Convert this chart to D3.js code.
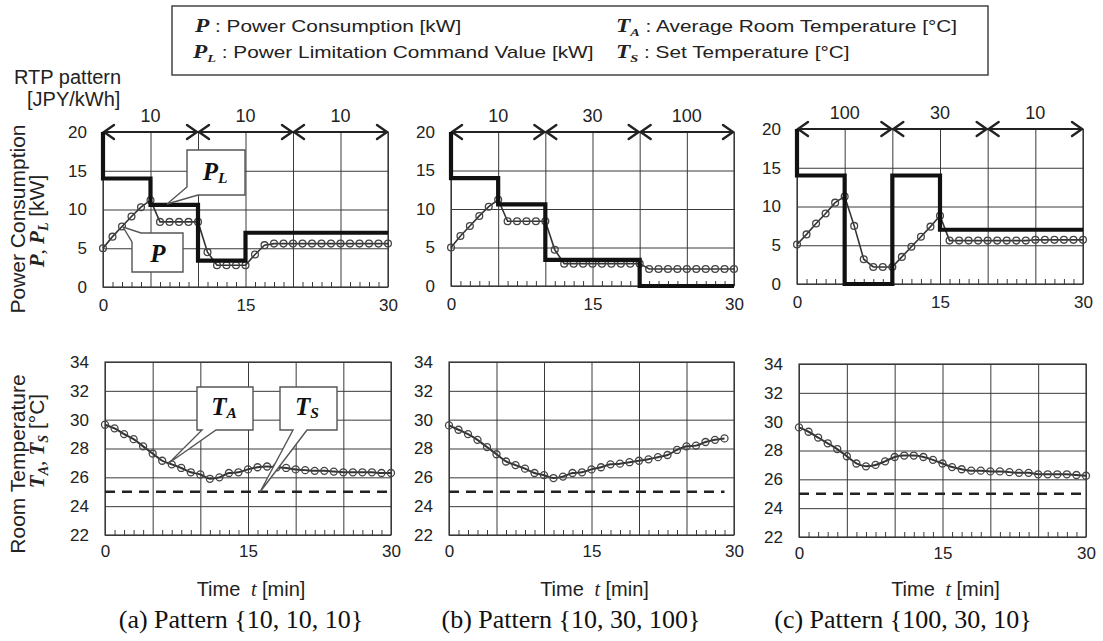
<!DOCTYPE html>
<html><head><meta charset="utf-8">
<script src="https://cdn.jsdelivr.net/npm/d3@7"></script>
<style>body{margin:0;background:#fff}svg{display:block}</style>
</head><body>
<svg id="c" width="1103" height="641"></svg>
<script>
// ---------------- DATA ----------------
const minutes = [0,1,2,3,4,5,6,7,8,9,10,11,12,13,14,15,16,17,18,19,20,21,22,23,24,25,26,27,28,29,30];
const gridMinutes = [0,5,10,15,20,25,30];
const xLabelTicks = [0,15,30];
const powerTicks = [0,5,10,15,20];
const tempTicks = [22,24,26,28,30,32,34];
const rtpBounds = [[0,10],[10,20],[20,30]];

const rtpA = [10,10,10];
const rtpB = [10,30,100];
const rtpC = [100,30,10];

// Power limitation command (step, value holds until next time)
const plTimeA = [0,0,5,10,15,30];
const plValA  = [20,14,10.6,3.4,7,7];
const plTimeB = [0,0,5,10,20,30];
const plValB  = [20,14,10.6,3.4,0,0];
const plTimeC = [0,0,5,10,15,30];
const plValC  = [20,14,0,14,7,7];

// Power consumption P (every minute)
const pA = [5.0,6.5,7.8,9.1,10.3,11.2,8.4,8.4,8.4,8.4,8.4,4.5,2.8,2.8,2.8,2.8,4.2,5.4,5.6,5.6,5.6,5.6,5.6,5.6,5.6,5.6,5.6,5.6,5.6,5.6,5.6];
const pB = [5.0,6.5,7.8,9.1,10.3,11.2,8.4,8.4,8.4,8.4,8.4,4.7,2.9,2.9,2.9,2.9,2.9,2.9,2.9,2.9,2.9,2.2,2.2,2.2,2.2,2.2,2.2,2.2,2.2,2.2,2.2];
const pC = [5.1,6.4,7.8,9.1,10.5,11.3,7.5,3.2,2.2,2.2,2.2,3.5,4.8,6.1,7.4,8.8,5.6,5.6,5.6,5.6,5.6,5.6,5.6,5.6,5.6,5.7,5.7,5.7,5.7,5.7,5.7];

// Average room temperature T_A
const taA = [29.65,29.4,29.0,28.65,28.15,27.65,27.15,26.9,26.65,26.35,26.2,25.9,26.0,26.3,26.35,26.55,26.7,26.75,26.7,26.65,26.55,26.5,26.45,26.45,26.4,26.35,26.35,26.35,26.35,26.3,26.3];
const taB = [29.6,29.3,29.0,28.6,28.1,27.6,27.1,26.85,26.6,26.3,26.15,25.95,26.05,26.3,26.35,26.55,26.7,26.9,26.95,27.05,27.15,27.25,27.4,27.55,27.9,28.15,28.2,28.45,28.6,28.7];
const taC = [29.6,29.3,28.9,28.5,28.1,27.6,27.1,26.9,27.0,27.25,27.55,27.65,27.65,27.55,27.35,27.1,26.85,26.7,26.6,26.6,26.55,26.55,26.5,26.45,26.45,26.35,26.35,26.35,26.35,26.3,26.25];

// Set temperature T_S
const tsValue = 25;
const tsSpanA = [0,30];
const tsSpanB = [0,29];
const tsSpanC = [0,29.5];

const captions = ["(a) Pattern {10, 10, 10}", "(b) Pattern {10, 30, 100}", "(c) Pattern {100, 30, 10}"];

// ---------------- LAYOUT ----------------
const SANS = "'Liberation Sans', Arial, sans-serif";
const SERIF = "'Liberation Serif', 'Times New Roman', serif";
const INK = "#222";
const GRID = "#3a3a3a";

const panels = [
  {top:{l:103,r:388,t:132,b:287}, bot:{l:105,r:391,t:362,b:535}, rtp:rtpA, plT:plTimeA, plV:plValA, p:pA, ta:taA, ts:tsSpanA, cap:captions[0], capX:241},
  {top:{l:451,r:734,t:132,b:286}, bot:{l:449,r:734,t:362,b:535}, rtp:rtpB, plT:plTimeB, plV:plValB, p:pB, ta:taB, ts:tsSpanB, cap:captions[1], capX:571},
  {top:{l:797,r:1083,t:129,b:284}, bot:{l:799,r:1086,t:364,b:537}, rtp:rtpC, plT:plTimeC, plV:plValC, p:pC, ta:taC, ts:tsSpanC, cap:captions[2], capX:903}
];

const svg = d3.select('#c');

function styleAxis(g) {
  g.select('.domain').remove();
  g.selectAll('line').attr('stroke', GRID).attr('stroke-width', 1);
  g.selectAll('text').attr('font-family', SANS).attr('font-size', 17).attr('fill', INK);
}

function frame(L, x, y, yTicks) {
  const g = svg.append('g');
  g.append('g').attr('transform', `translate(0,${L.b})`)
    .call(d3.axisBottom(x).tickValues(gridMinutes).tickSize(-(L.b - L.t)).tickFormat(''))
    .call(styleAxis);
  g.append('g').attr('transform', `translate(${L.l},0)`)
    .call(d3.axisLeft(y).tickValues(yTicks).tickSize(-(L.r - L.l)).tickPadding(16))
    .call(styleAxis);
  g.append('g').attr('transform', `translate(0,${L.b})`)
    .call(d3.axisBottom(x).tickValues(minutes.filter(m => m % 5 !== 0)).tickSize(-5).tickFormat(''))
    .call(styleAxis);
  g.append('rect').attr('x', L.l).attr('y', L.t).attr('width', L.r - L.l).attr('height', L.b - L.t)
    .attr('fill', 'none').attr('stroke', GRID).attr('stroke-width', 1.2);
  return g;
}

function xLabels(L, x, pad) {
  svg.append('g').attr('transform', `translate(0,${L.b})`)
    .call(d3.axisBottom(x).tickValues(xLabelTicks).tickSize(0).tickPadding(pad))
    .call(styleAxis);
}

panels.forEach((P, i) => {
  // ---------- top: power ----------
  const T = P.top;
  const x = d3.scaleLinear().domain([0, 30]).range([T.l, T.r]);
  const y = d3.scaleLinear().domain([0, 20]).range([T.b, T.t]);
  frame(T, x, y, powerTicks);
  xLabels(T, x, 12);

  // RTP arrows
  const ay = y(20);
  rtpBounds.forEach((b, k) => {
    const x0 = x(b[0]), x1 = x(b[1]);
    const g = svg.append('g').attr('stroke', INK).attr('fill', 'none').attr('stroke-linecap', 'round').attr('stroke-linejoin', 'round');
    g.append('line').attr('x1', x0 + 1).attr('x2', x1 - 1).attr('y1', ay).attr('y2', ay).attr('stroke-width', 2);
    g.append('path').attr('d', `M${x0 + 11},${ay - 7}L${x0 + 1},${ay}L${x0 + 11},${ay + 7}`).attr('stroke-width', 2.4);
    g.append('path').attr('d', `M${x1 - 11},${ay - 7}L${x1 - 1},${ay}L${x1 - 11},${ay + 7}`).attr('stroke-width', 2.4);
    svg.append('text').attr('x', (x0 + x1) / 2).attr('y', ay - 10).attr('text-anchor', 'middle')
      .attr('font-family', SANS).attr('font-size', 18).attr('fill', INK).text(P.rtp[k]);
  });

  // P line + markers
  const pPts = P.p.map((v, k) => [minutes[k], v]);
  svg.append('path').datum(pPts)
    .attr('d', d3.line().x(d => x(d[0])).y(d => y(d[1])))
    .attr('fill', 'none').attr('stroke', '#333').attr('stroke-width', 1.6);
  svg.append('g').selectAll('circle').data(pPts).join('circle')
    .attr('cx', d => x(d[0])).attr('cy', d => y(d[1])).attr('r', 3.4)
    .attr('fill', 'none').attr('stroke', '#444').attr('stroke-width', 1.3);

  // P_L step line
  const plPts = P.plT.map((t, k) => [t, P.plV[k]]);
  svg.append('path').datum(plPts)
    .attr('d', d3.line().curve(d3.curveStepAfter).x(d => x(d[0])).y(d => y(d[1])))
    .attr('fill', 'none').attr('stroke', '#111').attr('stroke-width', 4.2).attr('stroke-linejoin', 'miter');

  // ---------- bottom: temperature ----------
  const B = P.bot;
  const xb = d3.scaleLinear().domain([0, 30]).range([B.l, B.r]);
  const yb = d3.scaleLinear().domain([22, 34]).range([B.b, B.t]);
  frame(B, xb, yb, tempTicks);
  xLabels(B, xb, 10);

  // T_S dashed
  svg.append('line').attr('x1', xb(P.ts[0])).attr('x2', xb(P.ts[1]))
    .attr('y1', yb(tsValue)).attr('y2', yb(tsValue))
    .attr('stroke', INK).attr('stroke-width', 2.6).attr('stroke-dasharray', '10,7');

  // T_A line + markers
  const taPts = P.ta.map((v, k) => [minutes[k], v]);
  svg.append('path').datum(taPts)
    .attr('d', d3.line().curve(d3.curveMonotoneX).x(d => xb(d[0])).y(d => yb(d[1])))
    .attr('fill', 'none').attr('stroke', '#333').attr('stroke-width', 2);
  svg.append('g').selectAll('circle').data(taPts).join('circle')
    .attr('cx', d => xb(d[0])).attr('cy', d => yb(d[1])).attr('r', 3.5)
    .attr('fill', 'none').attr('stroke', '#444').attr('stroke-width', 1.3);

  // x title
  const xt = svg.append('text').attr('x', (B.l + B.r) / 2 + 3).attr('y', 596).attr('text-anchor', 'middle')
    .attr('font-family', SANS).attr('font-size', 20).attr('fill', INK);
  xt.append('tspan').text('Time ');
  xt.append('tspan').attr('dx', 5).attr('font-family', SERIF).attr('font-style', 'italic').text('t');
  xt.append('tspan').text(' [min]');

  // caption
  svg.append('text').attr('x', P.capX).attr('y', 628).attr('text-anchor', 'middle')
    .attr('font-family', SERIF).attr('font-size', 26).attr('fill', '#111').text(P.cap);
});

// ---------------- Y TITLES ----------------
function vtitle(x, y, txt) {
  svg.append('text').attr('transform', `translate(${x},${y}) rotate(-90)`).attr('text-anchor', 'middle')
    .attr('font-family', SANS).attr('font-size', 21).attr('fill', INK).text(txt);
}
vtitle(25, 219, 'Power Consumption');
vtitle(25, 464, 'Room Temperature');

function symTitle(x, y, a, asub, b, bsub, unit) {
  const t = svg.append('text').attr('transform', `translate(${x},${y}) rotate(-90)`).attr('text-anchor', 'middle')
    .attr('fill', INK).attr('font-size', 21);
  const bi = s => s.attr('font-family', SERIF).attr('font-weight', 'bold').attr('font-style', 'italic');
  bi(t.append('tspan')).text(a);
  if (asub) { bi(t.append('tspan')).attr('font-size', 14).attr('dy', 4).text(asub); }
  t.append('tspan').attr('font-family', SERIF).attr('dy', asub ? -4 : 0).text(', ');
  bi(t.append('tspan')).text(b);
  bi(t.append('tspan')).attr('font-size', 14).attr('dy', 4).text(bsub);
  t.append('tspan').attr('font-family', SANS).attr('dy', -4).text('\u00a0[' + unit + ']');
}
symTitle(44, 221, 'P', '', 'P', 'L', 'kW');
symTitle(44, 441, 'T', 'A', 'T', 'S', '\u00b0C');

// ---------------- RTP label ----------------
svg.append('text').attr('x', 14).attr('y', 84).attr('font-family', SANS).attr('font-size', 20).attr('fill', INK).text('RTP pattern');
svg.append('text').attr('x', 27).attr('y', 106).attr('font-family', SANS).attr('font-size', 20).attr('fill', INK).text('[JPY/kWh]');

// ---------------- CALLOUTS (panel a) ----------------
function callout(pts, cx, cy, main, sub, size) {
  svg.append('path').attr('d', 'M' + pts.map(p => p.join(',')).join('L') + 'Z')
    .attr('fill', '#fff').attr('stroke', '#555').attr('stroke-width', 1.4).attr('stroke-linejoin', 'miter');
  const t = svg.append('text').attr('x', cx).attr('y', cy).attr('text-anchor', 'middle').attr('dominant-baseline', 'central')
    .attr('font-family', SERIF).attr('font-weight', 'bold').attr('font-style', 'italic').attr('fill', '#111').attr('font-size', size);
  t.append('tspan').text(main);
  if (sub) t.append('tspan').attr('font-size', size * 0.62).attr('dy', 6).text(sub);
}
callout([[187,150],[245,150],[245,195],[198,195],[167,204],[187,187]], 215, 171, 'P', 'L', 25);
callout([[141,233],[183,233],[183,272],[132,272],[132,242],[123,227]], 158, 253, 'P', '', 25);
callout([[197,387],[253,387],[253,430],[216,430],[169,463],[202,430],[197,430]], 224, 406, 'T', 'A', 25);
callout([[280,387],[337,387],[337,430],[307,430],[260,492],[293,430],[280,430]], 307, 406, 'T', 'S', 25);

// ---------------- LEGEND ----------------
svg.append('rect').attr('x', 172).attr('y', 6).attr('width', 816).attr('height', 69)
  .attr('fill', '#fff').attr('stroke', '#444').attr('stroke-width', 1.5);
function legendItem(x, y, sym, sub, label) {
  const g = svg.append('g').attr('transform', `translate(${x},${y}) scale(1.3,1)`);
  const t = g.append('text').attr('fill', INK).attr('font-size', 16);
  t.append('tspan').attr('font-family', SERIF).attr('font-weight', 'bold').attr('font-style', 'italic').attr('font-size', 18).text(sym);
  if (sub) t.append('tspan').attr('font-family', SERIF).attr('font-weight', 'bold').attr('font-style', 'italic').attr('font-size', 11).attr('dy', 4).text(sub);
  t.append('tspan').attr('font-family', SANS).attr('dy', sub ? -4 : 0).text('\u00a0: ' + label);
}
legendItem(195, 32, 'P', '', 'Power Consumption [kW]');
legendItem(193, 58, 'P', 'L', 'Power Limitation Command Value [kW]');
legendItem(616, 32, 'T', 'A', 'Average Room Temperature [\u00b0C]');
legendItem(616, 58, 'T', 'S', 'Set Temperature [\u00b0C]');
</script>
</body></html>
